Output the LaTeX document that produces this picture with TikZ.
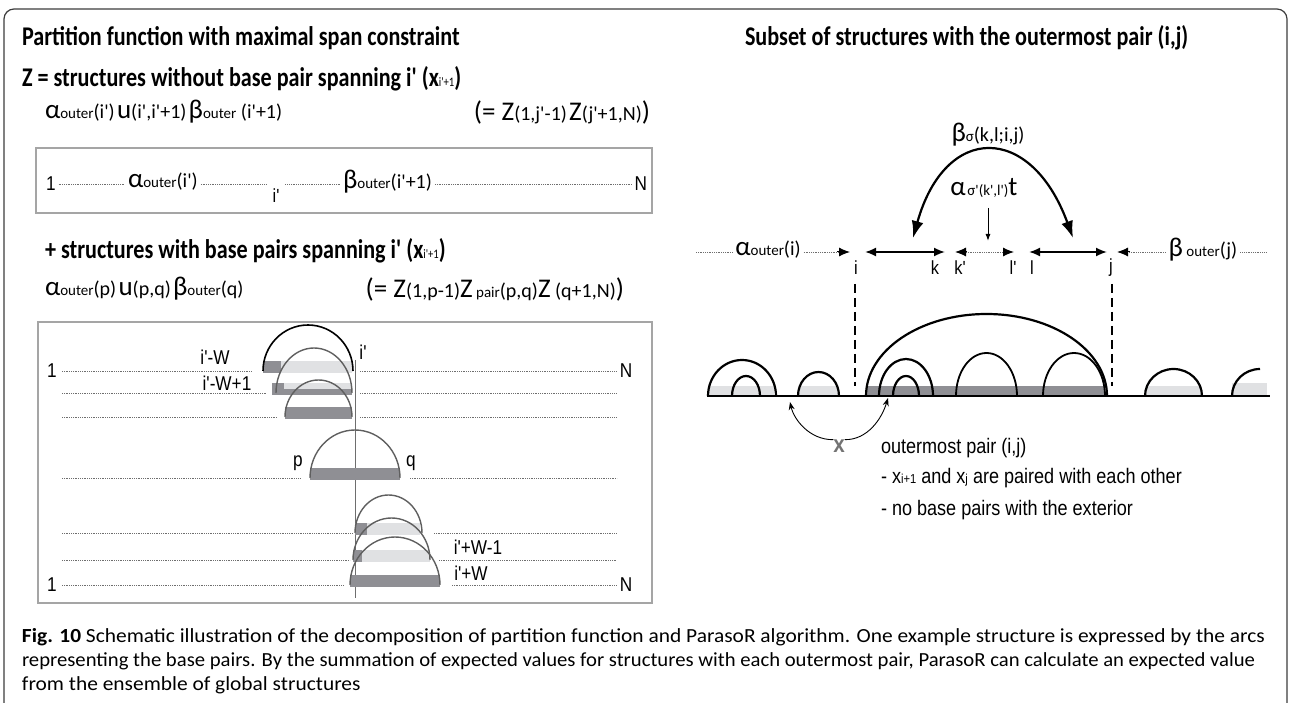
\documentclass[tikz,border=0pt]{standalone}
\usepackage{graphicx}
\usepackage{fontspec}
\defaultfontfeatures{}
\setmainfont{Carlito}
\newfontfamily\cf{Carlito}
\newfontfamily\cfb[FakeStretch=0.82]{Carlito}
\newfontfamily\nf[FakeStretch=0.86]{Liberation Sans}
\usetikzlibrary{arrows.meta}
\definecolor{darkbar}{RGB}{143,143,148}
\definecolor{lightbar}{RGB}{224,225,227}
\definecolor{arcgray}{RGB}{95,95,95}
\definecolor{boxgray}{RGB}{165,165,165}
\definecolor{framec}{RGB}{60,60,60}
\definecolor{dotc}{RGB}{110,110,110}
\definecolor{xgray}{RGB}{115,115,115}
\newcommand\BG[1]{{\cf\fontsize{27}{27}\selectfont #1}}
\newcommand\SM[1]{{\cf\fontsize{15}{15}\selectfont #1}}
\newcommand\MD[1]{{\cf\fontsize{20}{20}\selectfont #1}}
\newcommand\TT{\cfb\bfseries\fontsize{27}{27}\selectfont}
\newcommand\LB{\nf\fontsize{20}{20}\selectfont}
\newcommand\LS{\nf\fontsize{19}{19}\selectfont}
\newcommand\CP{\cf\fontsize{20}{20}\selectfont}
\newcommand\capA{\textbf{Fig. 10} Schematic illustration of the decomposition of partition function and ParasoR algorithm. One example structure is expressed by the arcs}
\newcommand\capB{representing the base pairs. By the summation of expected values for structures with each outermost pair, ParasoR can calculate an expected value}
\newcommand\capC{from the ensemble of global structures}
\newsavebox\capbox
\newlength\capw
\begin{document}
\sbox\capbox{\CP\capA}%
\setlength\capw{\wd\capbox}%
\begin{tikzpicture}[x=1pt,y=-1pt,
  txt/.style={inner sep=0pt,outer sep=0pt},
  dotl/.style={dotc,line width=0.9pt,dash pattern=on 0.9pt off 0.9pt},
  bxl/.style={draw=boxgray,line width=1.2pt},
  blackarc/.style={black,line width=1.6pt},
  grayarc/.style={arcgray,line width=1.4pt},
  rarc/.style={black,line width=2.2pt},
  rarcs/.style={black,line width=1.8pt},
  dbl/.style={black,line width=1.8pt,{Latex[length=11pt,width=9pt]}-{Latex[length=11pt,width=9pt]}},
  tip/.style={black,line width=1pt,-{Latex[length=11pt,width=9pt]}}]
\useasboundingbox (0,0) rectangle (1291,703);
\pgfmathsetmacro\capS{1243/\capw}
% frame
\draw[framec,line width=1.2pt,rounded corners=10pt] (4,720) -- (4,9) -- (1287,9) -- (1287,720);

% ---------------- left panel ----------------
\node[txt,anchor=west] (t1) at (22,38) {\TT Partition function with maximal span constraint};
\node[txt,anchor=west] (t2) at (22,79) {\TT Z = structures without base pair spanning i' (x{\fontsize{13}{13}\selectfont\mdseries i'+1})};
\node[txt,anchor=west] (f1) at (45,112) {\BG{α}\SM{outer}\MD{(i')} \BG{u}\MD{(i',i'+1)} \BG{β}\SM{outer}\MD{ (i'+1)}};
\node[txt,anchor=east] (f2) at (650,112) {\BG{(= Z}\MD{(1,j'-1)} \BG{Z}\MD{(j'+1,N)}\BG{)}};

\draw[bxl] (36,148) rectangle (652,213);
\node[txt,anchor=west,font=\LB] (o1) at (46,184) {1};
\node[txt,anchor=west] (a1) at (128,182) {\BG{α}\SM{outer}\MD{(i')}};
\node[txt,font=\LS] (ip) at (276,196) {i'};
\node[txt,anchor=west] (b1) at (343,182) {\BG{β}\SM{outer}\MD{(i'+1)}};
\node[txt,anchor=east,font=\LB] (n1) at (647,184) {N};
\draw[dotl] ([xshift=3pt]o1.east) -- ([xshift=-3pt]a1.west |- o1.east);
\draw[dotl] ([xshift=3pt]a1.east |- o1.east) -- ([xshift=-6pt]ip.west |- o1.east);
\draw[dotl] ([xshift=6pt]ip.east |- o1.east) -- ([xshift=-3pt]b1.west |- o1.east);
\draw[dotl] ([xshift=3pt]b1.east |- o1.east) -- ([xshift=-3pt]n1.west);

\node[txt,anchor=west] (t3) at (45,251) {\TT + structures with base pairs spanning i' (x{\fontsize{13}{13}\selectfont\mdseries i'+1})};
\node[txt,anchor=west] (f3) at (45,289) {\BG{α}\SM{outer}\MD{(p)} \BG{u}\MD{(p,q)} \BG{β}\SM{outer}\MD{(q)}};
\node[txt,anchor=east] (f4) at (624,289) {\BG{(= Z}\MD{(1,p-1)}\BG{Z}\SM{ pair}\MD{(p,q)}\BG{Z}\MD{ (q+1,N)}\BG{)}};

\draw[bxl] (38,322) rectangle (652,603);
% vertical i' line
\draw[dotc,line width=0.6pt] (355.5,360) -- (355.5,598);
% row 1 (371)
\node[txt,font=\LB] (r1a) at (52,371) {1};
\node[txt,font=\LB] (r1b) at (626,371) {N};
\fill[darkbar] (263,361) rectangle (281,373);
\fill[lightbar] (281,361) rectangle (352,373);
\draw[dotl] (62,371) -- (252,371);
\draw[dotl] (360,371) -- (617,371);
\draw[blackarc] (263,371) arc[start angle=180,end angle=360,x radius=45,y radius=46];
\node[txt,font=\LB] (lw) at (215,357) {i'-W};
\node[txt,font=\LB] (li) at (363,352) {i'};
% row 2 (393)
\fill[darkbar] (272,383) rectangle (352,395);
\fill[lightbar] (284,383) rectangle (352,389);
\draw[dotl] (62,393) -- (266,393);
\draw[dotl] (360,393) -- (617,393);
\draw[grayarc] (276,393) arc[start angle=180,end angle=360,x radius=38,y radius=45];
\node[txt,font=\LB] (lw1) at (227,383) {i'-W+1};
% row 3 (417)
\fill[darkbar] (285,407) rectangle (352,419);
\draw[dotl] (62,417) -- (277,417);
\draw[dotl] (360,417) -- (617,417);
\draw[grayarc] (285,417) arc[start angle=180,end angle=360,x radius=33.5,y radius=37];
% row 4 p,q (478)
\fill[darkbar] (310,468) rectangle (400,480);
\draw[dotl] (62,478) -- (300,478);
\draw[dotl] (410,478) -- (617,478);
\draw[grayarc] (310,478) arc[start angle=180,end angle=360,x radius=45,y radius=48];
\node[txt,font=\LB] (lp) at (298,463) {p};
\node[txt,font=\LB] (lq) at (411,463) {q};
% row 5 (533)
\fill[darkbar] (355,523) rectangle (367,535);
\fill[lightbar] (367,523) rectangle (420,535);
\draw[dotl] (62,533) -- (352,533);
\draw[dotl] (434,533) -- (617,533);
\draw[grayarc] (355,533) arc[start angle=180,end angle=360,x radius=33.5,y radius=38];
% row 6 (560)
\fill[darkbar] (353,550) rectangle (362,562);
\fill[lightbar] (362,550) rectangle (430,562);
\draw[dotl] (62,560) -- (350,560);
\draw[dotl] (439,560) -- (617,560);
\draw[grayarc] (353,560) arc[start angle=180,end angle=360,x radius=38.5,y radius=42];
\node[txt,font=\LB] (lw2) at (478,547) {i'+W-1};
% row 7 (585)
\node[txt,font=\LB] (r7a) at (52,585) {1};
\node[txt,font=\LB] (r7b) at (626,585) {N};
\fill[darkbar] (350,575) rectangle (440,587);
\draw[dotl] (62,585) -- (343,585);
\draw[dotl] (452,585) -- (617,585);
\draw[grayarc] (350,585) arc[start angle=180,end angle=360,x radius=45,y radius=48];
\node[txt,font=\LB] (lw3) at (471,573) {i'+W};

% ---------------- right panel ----------------
\node[txt,anchor=west] (t4) at (745,38) {\TT Subset of structures with the outermost pair (i,j)};
\node[txt] (bs) at (988,135) {\BG{β}\SM{σ}\MD{(k,l;i,j)}};
\node[txt] (as) at (984,188) {\BG{α}\,\SM{σ'(k',l')}\BG{t}};
\draw[black,line width=2.2pt,{Latex[length=17pt,width=12pt]}-{Latex[length=17pt,width=12pt]}] (913,238) .. controls (945,123) and (1031,123) .. (1073,238);
\coordinate (dn) at (988,241);
\draw[black,line width=1pt,-{Latex[length=7pt,width=5pt]}] (988,208) -- (dn);

\node[txt] (aout) at (768,250) {\BG{α}\SM{outer}\MD{(i)}};
\coordinate (ls) at (696,252);
\draw[dotl] (ls) -- ([xshift=-3pt]aout.west |- ls);
\draw[dotl] ([xshift=3pt]aout.east |- ls) -- (838,252);
\coordinate (ti) at (850,252);
\draw[tip] (837,252) -- (ti);
\node[txt,font=\LS] (li2) at (856,268) {i};
\node[txt,font=\LS] (lk) at (935,268) {k};
\node[txt,font=\LS] (lk2) at (960,268) {k'};
\node[txt,font=\LS] (ll2) at (1013,268) {l'};
\node[txt,font=\LS] (ll) at (1032,268) {l};
\node[txt,font=\LS] (lj) at (1111,268) {j};
\coordinate (d1a) at (865,252); \coordinate (d1b) at (945,252);
\draw[dbl] (d1a) -- (d1b);
\coordinate (d2a) at (955,252); \coordinate (d2b) at (1014,252);
\draw[dotl] (966,252) -- (1003,252);
\draw[tip] (966,252) -- (d2a);
\draw[tip] (1003,252) -- (d2b);
\coordinate (d3a) at (1029,252); \coordinate (d3b) at (1107,252);
\draw[dbl] (d3a) -- (d3b);
\node[txt] (bout) at (1203,250) {\BG{β}\SM{ outer}\MD{(j)}};
\coordinate (tj) at (1117,252);
\draw[dotl] (1129,252) -- ([xshift=-3pt]bout.west |- tj);
\draw[tip] (1130,252) -- (tj);
\coordinate (re) at (1266,252);
\draw[dotl] ([xshift=3pt]bout.east |- re) -- (re);

% dashed i, j lines
\draw[black,line width=2pt,dash pattern=on 9pt off 5pt] (855,284) -- (855,386);
\draw[black,line width=2pt,dash pattern=on 9pt off 5pt] (1112,284) -- (1112,386);

% bars
\fill[lightbar] (708,386) rectangle (774,396);
\fill[lightbar] (799,386) rectangle (838,396);
\fill[darkbar] (866,386) rectangle (1105,396);
\fill[lightbar] (1145,386) rectangle (1202,396);
\fill[lightbar] (1232,383) rectangle (1267,396);
% arcs
\draw[rarc] (708,396) arc[start angle=180,end angle=360,x radius=34,y radius=36];
\draw[rarc] (732,396) arc[start angle=180,end angle=360,x radius=14,y radius=20];
\draw[rarc] (798,396) arc[start angle=180,end angle=360,x radius=20.5,y radius=24];
\draw[rarc] (866,396) arc[start angle=180,end angle=360,x radius=120.5,y radius=82];
\draw[rarc] (879,396) arc[start angle=180,end angle=360,x radius=27,y radius=37];
\draw[rarc] (893,396) arc[start angle=180,end angle=360,x radius=13,y radius=20];
\draw[rarcs] (956,396) arc[start angle=180,end angle=360,x radius=30.5,y radius=43];
\draw[rarcs] (1043,396) arc[start angle=180,end angle=360,x radius=31,y radius=43];
\draw[rarc] (1145,396) arc[start angle=180,end angle=360,x radius=28.5,y radius=27];
\draw[rarc] (1232,396) arc[start angle=180,end angle=270,x radius=28,y radius=27];
% baseline
\draw[black,line width=2.6pt] (707,396) -- (1270,396);

% outermost pair annotation
\node[txt,text=xgray,font=\nf\bfseries\fontsize{24}{24}\selectfont] (xm) at (839,446) {x};
\coordinate (ca) at (790,402);
\coordinate (cb) at (888,398);
\draw[black,line width=0.9pt,-{Stealth[length=8pt,width=6pt]}] (xm.north west) .. controls (810,440) and (794,420) .. (ca);
\draw[black,line width=0.9pt,-{Stealth[length=8pt,width=6pt]}] (xm.north east) .. controls (868,440) and (882,418) .. (cb);
\node[txt,anchor=west,font=\nf\fontsize{21}{21}\selectfont] (op) at (881,448) {outermost pair (i,j)};
\node[txt,anchor=west,font=\nf\fontsize{21}{21}\selectfont] (op2) at (881,478) {- x{\fontsize{13}{13}\selectfont i+1} and x{\fontsize{13}{13}\selectfont j} are paired with each other};
\node[txt,anchor=west,font=\nf\fontsize{21}{21}\selectfont] (op3) at (881,510) {- no base pairs with the exterior};

% ---------------- caption ----------------
\node[txt,anchor=west] (c1) at (22,637) {\scalebox{\capS}[1]{\CP\capA}};
\node[txt,anchor=west] (c2) at (22,661) {\resizebox{1233pt}{\height}{\CP\capB}};
\node[txt,anchor=west] (c3) at (22,685) {\scalebox{\capS}[1]{\CP\capC}};
\end{tikzpicture}
\end{document}
